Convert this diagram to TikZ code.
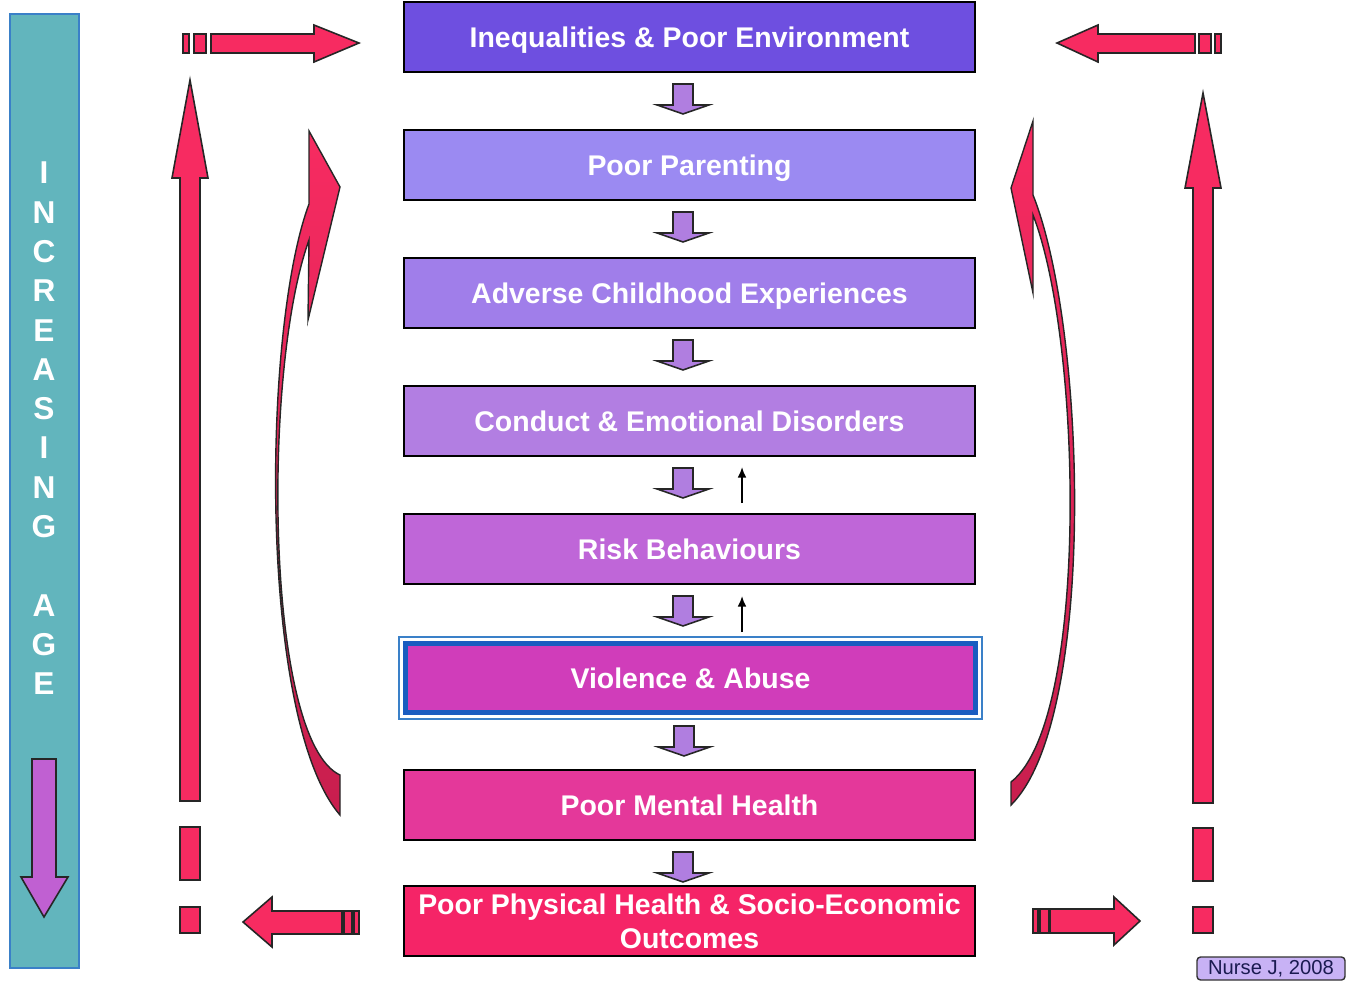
\documentclass[tikz,border=0pt]{standalone}
\usepackage{fontspec}
\setmainfont{Liberation Sans}
\usepackage{xcolor}
\usepackage{tikz}
\usetikzlibrary{calc}
\usetikzlibrary{arrows.meta}

\definecolor{tealbar}{HTML}{62B5BD}
\definecolor{tealedge}{HTML}{3A80C8}
\definecolor{agepurple}{HTML}{C060D2}
\definecolor{boxa}{HTML}{6E4FE0}
\definecolor{boxb}{HTML}{9B8AF2}
\definecolor{boxc}{HTML}{A07EEA}
\definecolor{boxd}{HTML}{B27EE2}
\definecolor{boxe}{HTML}{BF66D8}
\definecolor{boxf}{HTML}{D03DBA}
\definecolor{boxg}{HTML}{E4389A}
\definecolor{boxh}{HTML}{F52467}
\definecolor{vaedge}{HTML}{1A5CC0}
\definecolor{blockpurple}{HTML}{B07EE0}
\definecolor{arrowpink}{HTML}{F72B61}
\definecolor{arrowdark}{HTML}{C81E4E}
\definecolor{citefill}{HTML}{C8B2F5}
\definecolor{citetext}{HTML}{1A1A50}

\tikzset{
	box/.style={draw=black, line width=1.1pt, minimum width=11.42cm, minimum height=1.4cm, inner sep=0pt,
		text=white, align=center, text depth=0pt, font=\fontsize{16.2}{19.3}\selectfont\bfseries},
	agefont/.style={text=white, inner sep=0pt, font=\fontsize{18}{20}\selectfont\bfseries},
	downblock/.style={fill=blockpurple, draw=black!85, line width=0.9pt},
	pinkarrow/.style={fill=arrowpink, draw=black!85, line width=0.9pt},
	curvearrow/.style={top color=arrowpink, bottom color=arrowdark, draw=black!85, line width=0.8pt},
}

\begin{document}
\begin{tikzpicture}[>={Latex[length=6pt,width=5pt]}, x=0.02cm, y=-0.02cm]
	\useasboundingbox (0,0) rectangle (1351,981);

	% Increasing age bar
	\node at (44.5,491) (age) [fill=tealbar, draw=tealedge, line width=0.8pt, minimum width=1.38cm, minimum height=19.08cm] {};
	\foreach \c [count=\k from 0] in {I,N,C,R,E,A,S,I,N,G}{
		\node at (44,173+39.3*\k) (l\k) [agefont] {\c};
	}
	\foreach \c [count=\k from 11] in {A,G,E}{
		\node at (44,173+39.3*\k) (l\k) [agefont] {\c};
	}
	\draw[fill=agepurple, draw=black!85, line width=0.9pt] (32,759) -- (56,759) -- (56,877) -- (68,877) -- (44,917) -- (21,877) -- (32,877) -- cycle;

	% Boxes
	\foreach \n/\y/\col/\txt in {b1/37/boxa/{Inequalities \& Poor Environment},
		b2/165/boxb/{Poor Parenting},
		b3/293/boxc/{Adverse Childhood Experiences},
		b4/421/boxd/{Conduct \& Emotional Disorders},
		b5/549/boxe/{Risk Behaviours},
		b7/805/boxg/{Poor Mental Health},
		b8/921/boxh/{Poor Physical Health \& Socio-Economic\\Outcomes}}{
		\node at (689.5,\y) (\n) [box, fill=\col] {\txt};
	}
	\node at (690.5,678) (b6) [box, fill=boxf, draw=vaedge, line width=2.8pt, minimum width=11.4cm, minimum height=1.38cm] {Violence \& Abuse};
	\draw[tealedge, line width=0.7pt] ($(b6.south west)+(-4,4)$) rectangle ($(b6.north east)+(4,-4)$);

	% Down block arrows
	\foreach \a/\b in {b1/b2,b2/b3,b3/b4,b4/b5,b5/b6,b6/b7,b7/b8}{
		\draw[downblock] ($(\a.south)+(-16.5,11)$) -- ++(20,0) -- ++(0,21) -- ++(16,0) -- ++(-26,9) -- ++(-26,-9) -- ++(16,0) -- cycle;
	}

	% Thin up arrows
	\coordinate (u1s) at (742,503);
	\coordinate (u1e) at (742,467);
	\coordinate (u2s) at (742,632);
	\coordinate (u2e) at (742,596);
	\draw[->, line width=1pt] (u1s) -- (u1e);
	\draw[->, line width=1pt] (u2s) -- (u2e);

	% Left side
	\draw[pinkarrow] (183,34) rectangle (189,53);
	\draw[pinkarrow] (194,34) rectangle (206,53);
	\draw[pinkarrow] (211,34) -- (314,34) -- (314,25) -- (359,43) -- (314,62) -- (314,53) -- (211,53) -- cycle;
	\draw[pinkarrow] (180,801) -- (180,178) -- (172,178) -- (190,80) -- (208,178) -- (200,178) -- (200,801) -- cycle;
	\draw[pinkarrow] (180,827) rectangle (200,880);
	\draw[pinkarrow] (180,907) rectangle (200,933);
	\draw[pinkarrow] (342,911) -- (272,911) -- (272,897) -- (243,922) -- (272,947) -- (272,934) -- (342,934) -- cycle;
	\draw[pinkarrow] (344,911) rectangle (352,934);
	\draw[pinkarrow] (354,911) rectangle (359,934);
	\draw[curvearrow] (309,131) -- (340,187) -- (308,320) -- (309,240)
		.. controls (262,370) and (265,740) .. (340,775) -- (340,815)
		.. controls (258,720) and (262,330) .. (309,204) -- cycle;

	% Right side
	\draw[pinkarrow] (1215,34) rectangle (1221,53);
	\draw[pinkarrow] (1199,34) rectangle (1211,53);
	\draw[pinkarrow] (1195,34) -- (1098,34) -- (1098,25) -- (1057,43) -- (1098,62) -- (1098,53) -- (1195,53) -- cycle;
	\draw[pinkarrow] (1193,803) -- (1193,188) -- (1185,188) -- (1203,93) -- (1221,188) -- (1213,188) -- (1213,803) -- cycle;
	\draw[pinkarrow] (1193,828) rectangle (1213,881);
	\draw[pinkarrow] (1193,907) rectangle (1213,933);
	\draw[pinkarrow] (1050,909) -- (1114,909) -- (1114,897) -- (1140,921) -- (1114,945) -- (1114,933) -- (1050,933) -- cycle;
	\draw[pinkarrow] (1040,909) rectangle (1049,933);
	\draw[pinkarrow] (1033,909) rectangle (1038,933);
	\draw[curvearrow] (1033,121) -- (1011,188) -- (1033,293) -- (1033,215)
		.. controls (1082,340) and (1090,720) .. (1011,782) -- (1011,805)
		.. controls (1097,720) and (1087,330) .. (1033,195) -- cycle;

	% Source
	\node at (1271,968.5) (cite) [fill=citefill, draw=black!80, line width=0.8pt, rounded corners=2pt, minimum width=2.96cm, minimum height=0.46cm, inner sep=0pt, text=citetext, font=\fontsize{11.5}{13}\selectfont] {Nurse J, 2008};
\end{tikzpicture}
\end{document}
